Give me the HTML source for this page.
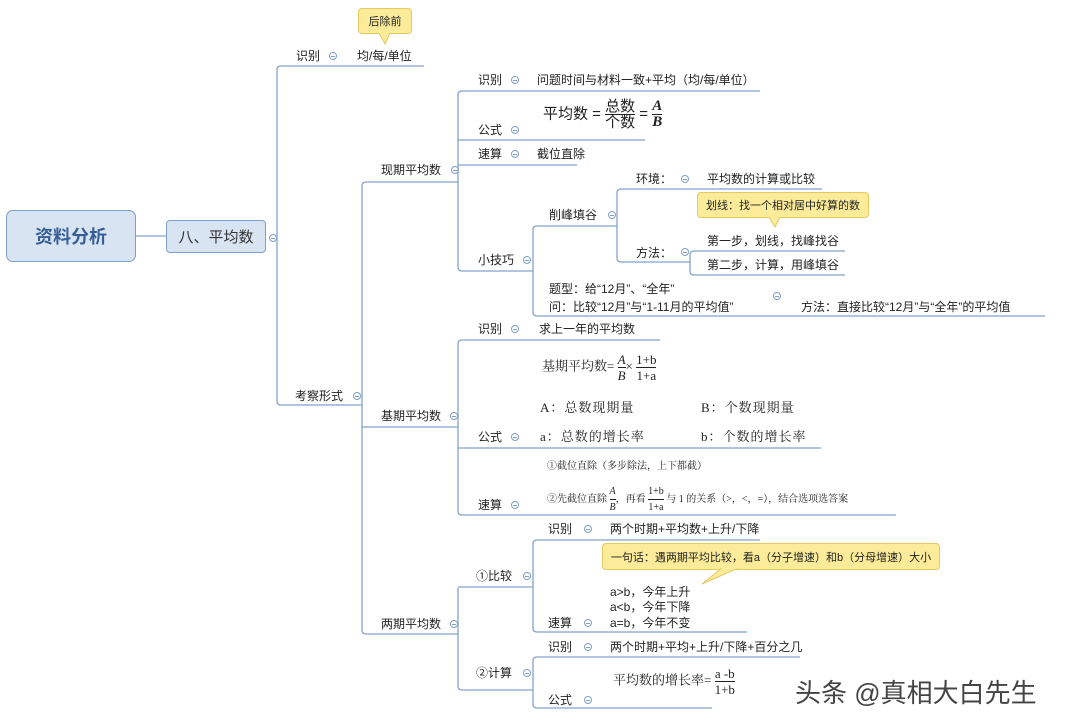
<!DOCTYPE html>
<html><head><meta charset="utf-8"><style>
body{margin:0;width:1066px;height:725px;background:#fff;position:relative;overflow:hidden;font-family:"Liberation Sans","Noto Sans CJK SC",sans-serif;font-size:12px;color:#222}
.t{position:absolute;white-space:nowrap;line-height:14px}
.c{position:absolute;width:8px;height:8px;border:1px solid #7f9fcf;border-radius:50%;box-sizing:border-box}
.c:after{content:"";position:absolute;left:1px;top:3px;width:4px;height:1px;background:#7f9fcf}
.s{font-family:"Liberation Serif","Noto Serif CJK SC",serif}
.fr{display:inline-block;vertical-align:middle;text-align:center}
.fr span{display:block;line-height:15px}
.fr span:first-child{border-bottom:1px solid #222}
.call{position:absolute;background:#fcec9a;border:1px solid #e4c860;border-radius:4px;box-sizing:border-box;font-size:11px;display:flex;align-items:center;justify-content:center}
</style></head><body>
<svg width="1066" height="725" style="position:absolute;left:0;top:0" fill="none" stroke="#84a2cc" stroke-width="1.3">
<path d="M136 236 H166"/>
<path d="M424 66 H281 Q277 66 277 70 V401 Q277 405 281 405 H362"/>
<path d="M458 182 H366 Q362 182 362 186 V630 Q362 634 366 634 H458"/>
<path d="M362 427 H458"/>
<path d="M760 91 H462 Q458 91 458 95 V267 Q458 271 462 271 H533"/>
<path d="M458 140 H645 M458 165 H577"/>
<path d="M617 226 H537 Q533 226 533 230 V312 Q533 316 537 316 H1045"/>
<path d="M822 189 H621 Q617 189 617 193 V258 Q617 262 621 262 H690"/>
<path d="M845 251 H694 Q690 251 690 255 V271 Q690 275 694 275 H845"/>
<path d="M660 340 H462 Q458 340 458 344 V511 Q458 515 462 515 H896"/>
<path d="M458 448 H821"/>
<path d="M458 587 H533 M760 540 H537 Q533 540 533 544 V628 Q533 632 537 632 H747"/>
<path d="M458 588 V686 Q458 690 462 690 H533"/>
<path d="M800 657 H537 Q533 657 533 661 V704 Q533 708 537 708 H712"/>
</svg>
<div style="position:absolute;left:6px;top:210px;width:130px;height:52px;background:#d9e4f2;border:1px solid #7f9fcf;border-radius:7px;box-sizing:border-box;display:flex;align-items:center;justify-content:center;font-size:18px;font-weight:bold;color:#365f96">资料分析</div>
<div style="position:absolute;left:166px;top:220px;width:100px;height:33px;background:#d9e4f2;border:1px solid #7f9fcf;border-radius:4px;box-sizing:border-box;display:flex;align-items:center;justify-content:center;font-size:15px;color:#333">八、平均数</div>
<div class="c" style="left:269px;top:234px"></div>

<div class="call" style="left:358px;top:8px;width:54px;height:26px">后除前</div>
<svg width="20" height="14" style="position:absolute;left:378px;top:33px"><path d="M1 0 L7 11 L12 0" fill="#fcec9a" stroke="#e4c860"/><path d="M2 0 H11" stroke="#fcec9a" stroke-width="2"/></svg>
<div class="t" style="left:296px;top:49px">识别</div><div class="c" style="left:329px;top:52px"></div>
<div class="t" style="left:357px;top:49px">均/每/单位</div>
<div class="t" style="left:295px;top:389px">考察形式</div><div class="c" style="left:353px;top:392px"></div>

<div class="t" style="left:381px;top:163px">现期平均数</div><div class="c" style="left:451px;top:166px"></div>
<div class="t" style="left:478px;top:73px">识别</div><div class="c" style="left:511px;top:76px"></div>
<div class="t" style="left:537px;top:73px">问题时间与材料一致+平均（均/每/单位）</div>
<div class="t" style="left:478px;top:123px">公式</div><div class="c" style="left:511px;top:126px"></div>
<div class="t" style="left:543px;top:99px;font-size:15px">平均数 = <span class="fr"><span>总数</span><span>个数</span></span> = <span class="fr s" style="font-style:italic;font-weight:bold"><span>A</span><span>B</span></span></div>
<div class="t" style="left:478px;top:147px">速算</div><div class="c" style="left:511px;top:150px"></div>
<div class="t" style="left:537px;top:147px">截位直除</div>
<div class="t" style="left:478px;top:253px">小技巧</div><div class="c" style="left:523px;top:256px"></div>
<div class="t" style="left:549px;top:208px">削峰填谷</div><div class="c" style="left:608px;top:211px"></div>
<div class="t" style="left:636px;top:172px">环境：</div><div class="c" style="left:681px;top:175px"></div>
<div class="t" style="left:707px;top:172px">平均数的计算或比较</div>
<div class="call" style="left:697px;top:192px;width:172px;height:26px">划线：找一个相对居中好算的数</div>
<svg width="20" height="12" style="position:absolute;left:768px;top:217px"><path d="M1 0 L7 10 L12 0" fill="#fcec9a" stroke="#e4c860"/><path d="M2 0 H11" stroke="#fcec9a" stroke-width="2"/></svg>
<div class="t" style="left:636px;top:246px">方法：</div><div class="c" style="left:681px;top:248px"></div>
<div class="t" style="left:707px;top:234px">第一步，划线，找峰找谷</div>
<div class="t" style="left:707px;top:258px">第二步，计算，用峰填谷</div>
<div class="t" style="left:549px;top:282px">题型：给“12月”、“全年”</div>
<div class="t" style="left:549px;top:300px">问：比较“12月”与“1-11月的平均值”</div>
<div class="c" style="left:773px;top:292px"></div>
<div class="t" style="left:801px;top:300px">方法：直接比较“12月”与“全年”的平均值</div>

<div class="t" style="left:381px;top:409px">基期平均数</div><div class="c" style="left:450px;top:412px"></div>
<div class="t" style="left:478px;top:322px">识别</div><div class="c" style="left:511px;top:325px"></div>
<div class="t" style="left:539px;top:322px">求上一年的平均数</div>
<div class="t s" style="left:542px;top:352px;font-size:13px">基期平均数= <span class="fr" style="font-style:italic"><span>A</span><span>B</span></span>× <span class="fr"><span>1+b</span><span>1+a</span></span></div>
<div class="t s" style="left:540px;top:401px;font-size:13px;letter-spacing:1px">A：总数现期量</div><div class="t s" style="left:701px;top:401px;font-size:13px;letter-spacing:1px">B：个数现期量</div>
<div class="t" style="left:478px;top:430px">公式</div><div class="c" style="left:511px;top:433px"></div>
<div class="t s" style="left:540px;top:430px;font-size:13px;letter-spacing:1px">a：总数的增长率</div><div class="t s" style="left:701px;top:430px;font-size:13px;letter-spacing:1px">b：个数的增长率</div>
<div class="t s" style="left:547px;top:460px;font-size:10px">①截位直除（多步除法，上下都截）</div>
<div class="t s" style="left:547px;top:484px;font-size:10px">②先截位直除 <span class="fr" style="font-style:italic"><span>A</span><span>B</span></span>，再看 <span class="fr"><span>1+b</span><span>1+a</span></span> 与 1 的关系（&gt;，&lt;，=），结合选项选答案</div>
<div class="t" style="left:478px;top:498px">速算</div><div class="c" style="left:511px;top:501px"></div>

<div class="t" style="left:381px;top:617px">两期平均数</div><div class="c" style="left:450px;top:620px"></div>
<div class="t" style="left:476px;top:569px">①比较</div><div class="c" style="left:523px;top:572px"></div>
<div class="t" style="left:548px;top:522px">识别</div><div class="c" style="left:584px;top:525px"></div>
<div class="t" style="left:610px;top:522px">两个时期+平均数+上升/下降</div>
<div class="call" style="left:602px;top:543px;width:338px;height:27px">一句话：遇两期平均比较，看a（分子增速）和b（分母增速）大小</div>
<svg width="50" height="20" style="position:absolute;left:700px;top:568px"><path d="M22 0 L2 16 L38 0" fill="#fcec9a" stroke="#e4c860"/><path d="M23 0 H37" stroke="#fcec9a" stroke-width="2"/></svg>
<div class="t" style="left:610px;top:585px">a&gt;b，今年上升</div>
<div class="t" style="left:610px;top:600px">a&lt;b，今年下降</div>
<div class="t" style="left:610px;top:616px">a=b，今年不变</div>
<div class="t" style="left:548px;top:616px">速算</div><div class="c" style="left:584px;top:619px"></div>
<div class="t" style="left:476px;top:666px">②计算</div><div class="c" style="left:523px;top:669px"></div>
<div class="t" style="left:548px;top:640px">识别</div><div class="c" style="left:584px;top:643px"></div>
<div class="t" style="left:610px;top:640px">两个时期+平均+上升/下降+百分之几</div>
<div class="t s" style="left:613px;top:666px;font-size:13px">平均数的增长率= <span class="fr"><span>a -b</span><span>1+b</span></span></div>
<div class="t" style="left:548px;top:693px">公式</div><div class="c" style="left:584px;top:696px"></div>

<div class="t" style="left:795px;top:677px;font-size:26px;line-height:32px;color:#444">头条 @真相大白先生</div>
</body></html>
